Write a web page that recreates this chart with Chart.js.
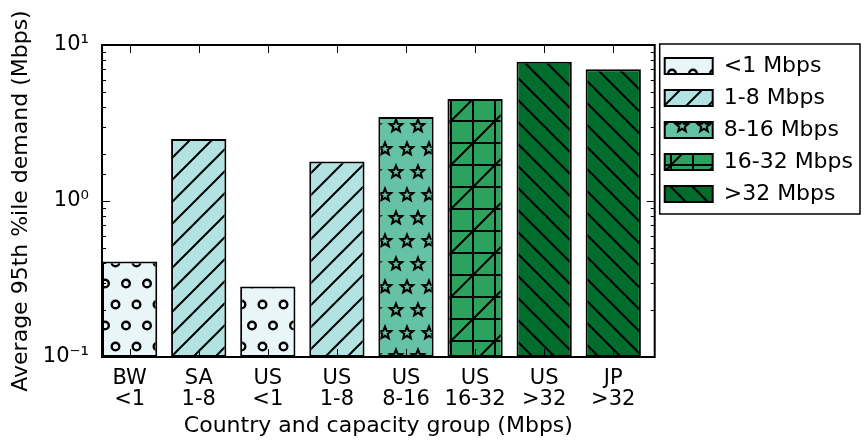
<!DOCTYPE html>
<html>
<head>
<meta charset="utf-8">
<script src="https://cdn.jsdelivr.net/npm/chart.js@4.4.0/dist/chart.umd.min.js"></script>
<style>
  html, body { margin: 0; padding: 0; background: #fff; }
</style>
</head>
<body>
<canvas id="chart" width="864" height="441"></canvas>
<script>
// bars, left to right
const categories = [["BW", "<1"], ["SA", "1-8"], ["US", "<1"], ["US", "1-8"], ["US", "8-16"], ["US", "16-32"], ["US", ">32"], ["JP", ">32"]];
const demand = [0.41, 2.5, 0.283, 1.79, 3.46, 4.5, 7.8, 7.0];
const groupOf = [0, 1, 0, 1, 2, 3, 4, 4];

// capacity groups (legend)
const groups = ["<1 Mbps", "1-8 Mbps", "8-16 Mbps", "16-32 Mbps", ">32 Mbps"];
const groupColors = ["#e9f6f8", "#b2e2e2", "#66c2a4", "#2ca25f", "#006d2c"];
const groupHatch = ["o", "/", "*", "+/", "\\"];

const yTickValues = [0.1, 1, 10];
const yTickLabels = ["10⁻¹", "10⁰", "10¹"];

const FONT = "'DejaVu Sans', sans-serif";

// hatch patterns drawn on a small tile
function star(c, cx, cy, ro, ri) {
  c.beginPath();
  for (let k = 0; k < 10; k++) {
    const r = k % 2 ? ri : ro;
    const a = -Math.PI / 2 + k * Math.PI / 5;
    const px = cx + r * Math.cos(a), py = cy + r * Math.sin(a);
    k ? c.lineTo(px, py) : c.moveTo(px, py);
  }
  c.closePath();
  c.stroke();
}

function makeFill(color, hatch) {
  const t = document.createElement("canvas");
  let w = 22, h = 22;
  if (hatch === "o") { w = 21; h = 42; }
  if (hatch === "*") h = 46;
  if (hatch === "+/") { w = 44; h = 44; }
  t.width = w; t.height = h;
  const c = t.getContext("2d");
  c.fillStyle = color;
  c.fillRect(0, 0, w, h);
  c.strokeStyle = "#000";
  c.lineWidth = 2;
  if (hatch === "o") {
    c.lineWidth = 2.4;
    [[10.5, 10.5], [0, 31.5], [21, 31.5]].forEach(([x, y]) => {
      c.beginPath(); c.arc(x, y, 3.8, 0, Math.PI * 2); c.stroke();
    });
  } else if (hatch === "/") {
    c.beginPath();
    c.moveTo(-2, h + 2); c.lineTo(w + 2, -2);
    c.moveTo(-2, 2); c.lineTo(2, -2);
    c.moveTo(w - 2, h + 2); c.lineTo(w + 2, h - 2);
    c.stroke();
  } else if (hatch === "\\") {
    c.beginPath();
    c.moveTo(-2, -2); c.lineTo(w + 2, h + 2);
    c.moveTo(w - 2, -2); c.lineTo(w + 2, 2);
    c.moveTo(-2, h - 2); c.lineTo(2, h + 2);
    c.stroke();
  } else if (hatch === "*") {
    [[11, 11], [0, 34], [22, 34]].forEach(([x, y]) => star(c, x, y, 6.5, 2.8));
  } else if (hatch === "+/") {
    c.beginPath();
    c.moveTo(11, 0); c.lineTo(11, h);
    c.moveTo(33, 0); c.lineTo(33, h);
    c.moveTo(0, 11); c.lineTo(w, 11);
    c.moveTo(0, 33); c.lineTo(w, 33);
    c.moveTo(-2, h + 2); c.lineTo(w + 2, -2);
    c.moveTo(-2, 2); c.lineTo(2, -2);
    c.moveTo(w - 2, h + 2); c.lineTo(w + 2, h - 2);
    c.stroke();
  }
  return c.createPattern(t, "repeat");
}

const fills = groupColors.map((col, i) => makeFill(col, groupHatch[i]));

// frame, inward ticks (both sides) and legend box, like matplotlib
const framePlugin = {
  id: "frame",
  afterDatasetsDraw(chart) {
    const { ctx, chartArea: a, scales: { x, y } } = chart;
    ctx.save();
    ctx.strokeStyle = "#000";
    ctx.lineWidth = 1;
    ctx.beginPath();
    y.ticks.forEach(t => {
      const py = Math.round(y.getPixelForValue(t.value)) + 0.5;
      const len = t.label ? 8 : 4;
      ctx.moveTo(a.left, py); ctx.lineTo(a.left + len, py);
      ctx.moveTo(a.right, py); ctx.lineTo(a.right - len, py);
    });
    x.ticks.forEach(t => {
      const px = Math.round(x.getPixelForValue(t.value)) + 0.5;
      ctx.moveTo(px, a.top); ctx.lineTo(px, a.top + 8);
      ctx.moveTo(px, a.bottom); ctx.lineTo(px, a.bottom - 8);
    });
    ctx.stroke();
    ctx.lineWidth = 2;
    ctx.strokeRect(a.left, a.top, a.right - a.left, a.bottom - a.top);
    ctx.restore();
  },
  afterDraw(chart) {
    const lg = chart.legend;
    const hb = lg.legendHitBoxes;
    if (!hb || !hb.length) return;
    const last = hb[hb.length - 1];
    const l = hb[0].left - 5, t = hb[0].top - 11;
    const b = last.top + last.height + 9;
    const r = lg.right - 3;
    const ctx = chart.ctx;
    ctx.save();
    ctx.strokeStyle = "#000";
    ctx.lineWidth = 1.5;
    ctx.strokeRect(l, t, r - l, b - t);
    ctx.restore();
  }
};

new Chart(document.getElementById("chart"), {
  type: "bar",
  data: {
    datasets: [{
      data: demand.map((v, i) => ({ x: i + 0.4, y: v })),
      backgroundColor: groupOf.map(g => fills[g]),
      borderColor: "#000",
      borderWidth: 2,
      borderSkipped: false,
      barPercentage: 0.8,
      categoryPercentage: 1
    }]
  },
  options: {
    responsive: false,
    animation: false,
    layout: { padding: { top: 45, right: 1, bottom: 0, left: 0 } },
    plugins: {
      tooltip: { enabled: false },
      legend: {
        position: "right",
        align: "start",
        labels: {
          boxWidth: 48,
          boxHeight: 16,
          padding: 10,
          color: "#000",
          font: { family: FONT, size: 22 },
          generateLabels: () => groups.map((g, i) => ({
            text: g,
            fillStyle: fills[i],
            strokeStyle: "#000",
            lineWidth: 2,
            hidden: false,
            fontColor: "#000",
            datasetIndex: 0
          }))
        },
        onClick: () => {}
      }
    },
    scales: {
      x: {
        type: "linear",
        min: 0,
        max: 8,
        offset: false,
        grid: { display: false, drawTicks: false },
        border: { display: false },
        afterBuildTicks: s => { s.ticks = categories.map((c, i) => ({ value: i + 0.4 })); },
        afterFit: s => { s.height = 84; },
        ticks: {
          autoSkip: false,
          maxRotation: 0,
          padding: 11,
          color: "#000",
          font: { family: FONT, size: 21, lineHeight: 1.0 },
          callback: (v, i) => categories[i]
        },
        title: {
          display: true,
          text: "Country and capacity group (Mbps)",
          color: "#000",
          font: { family: FONT, size: 22 },
          padding: { top: 0, bottom: 2 }
        }
      },
      y: {
        type: "logarithmic",
        min: 0.1,
        max: 10,
        grid: { display: false, drawTicks: false },
        border: { display: false },
        afterFit: s => { s.width = 102; },
        ticks: {
          autoSkip: false,
          padding: 13,
          color: "#000",
          font: { family: FONT, size: 21 },
          callback: v => {
            const k = yTickValues.findIndex(t => Math.abs(t - v) < 1e-9);
            return k >= 0 ? yTickLabels[k] : "";
          }
        },
        title: {
          display: true,
          text: "Average 95th %ile demand (Mbps)",
          color: "#000",
          font: { family: FONT, size: 22 },
          padding: { top: 8, bottom: 0 }
        }
      }
    }
  },
  plugins: [framePlugin]
});
</script>
</body>
</html>
